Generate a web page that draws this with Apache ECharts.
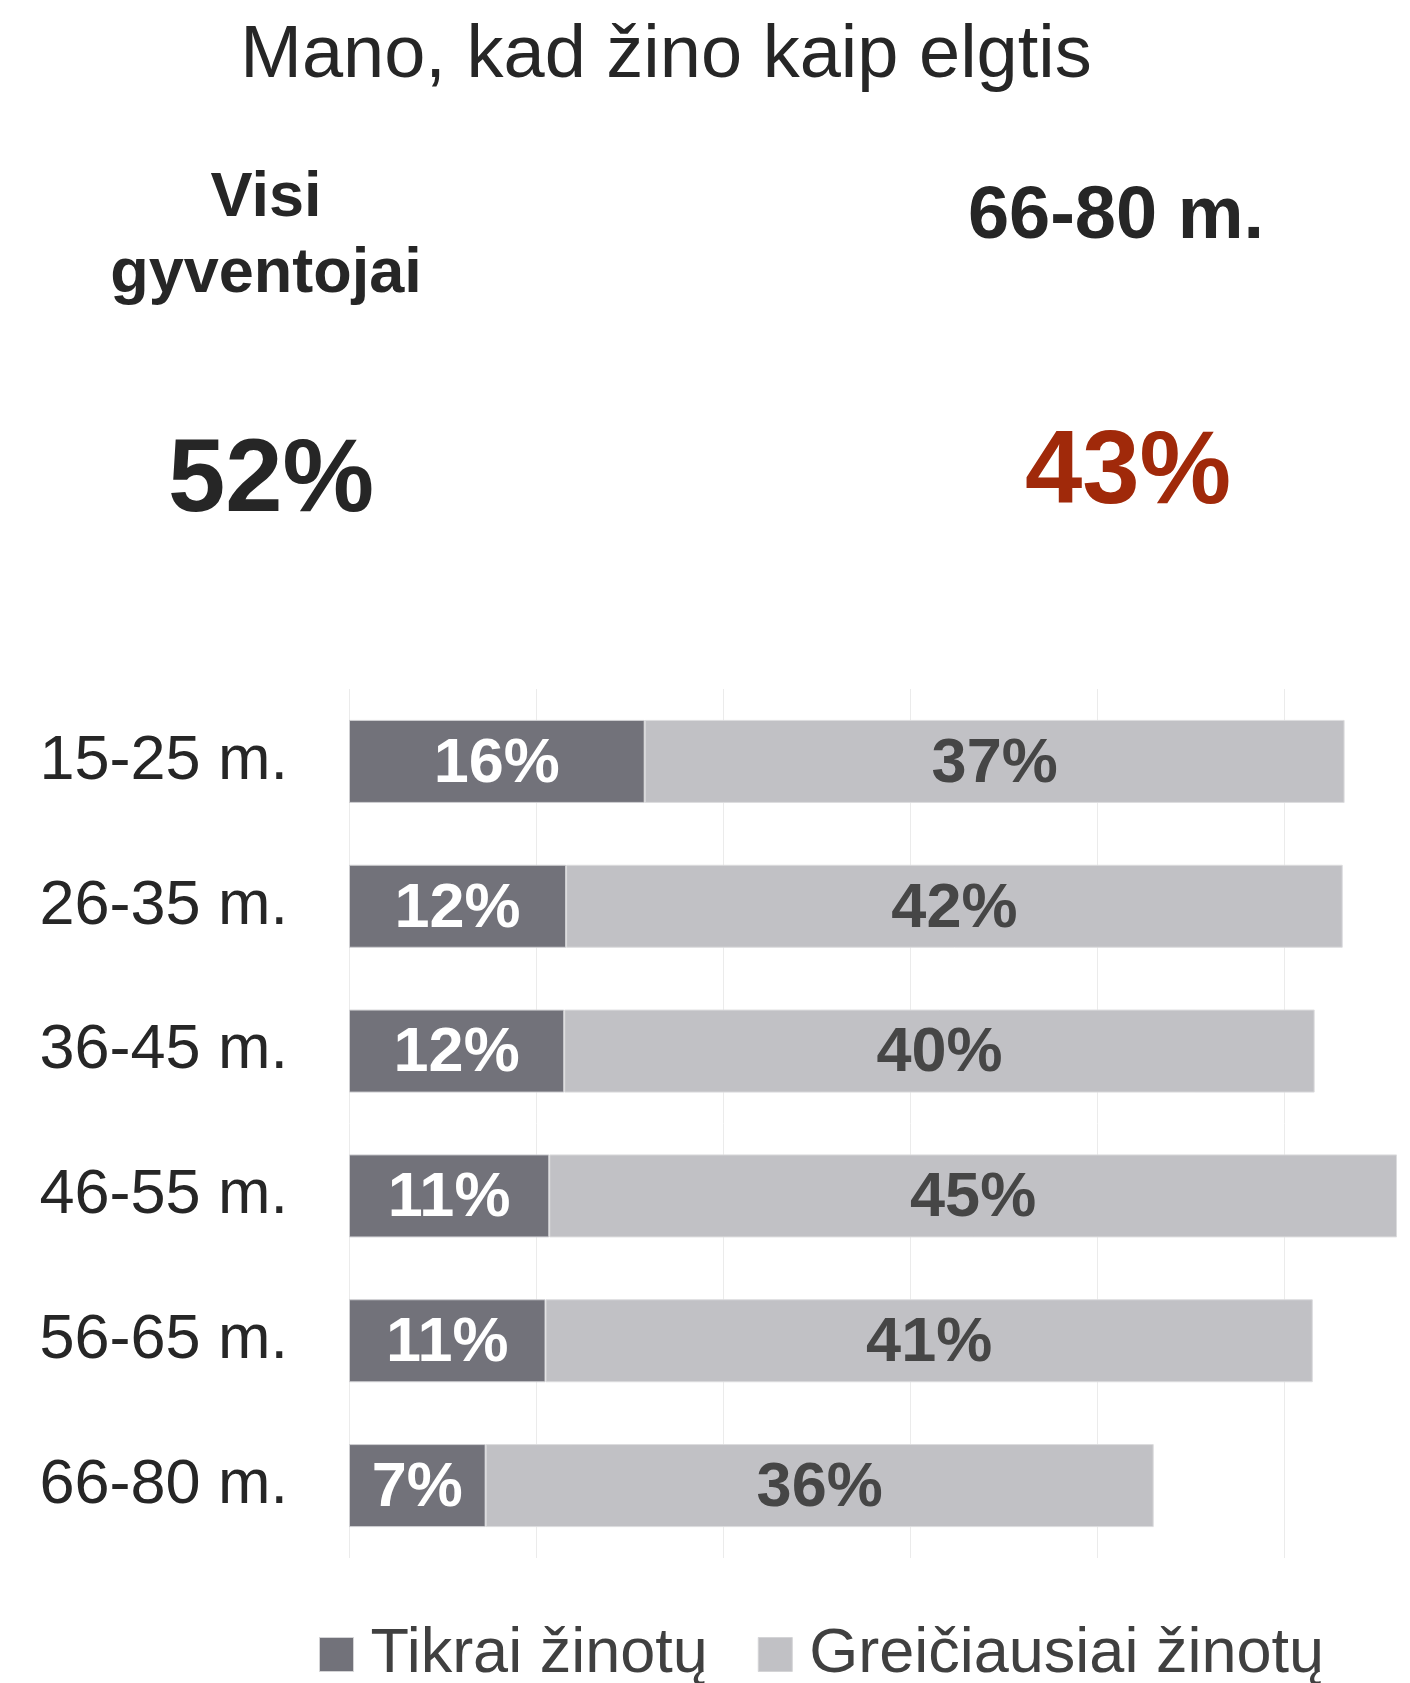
<!DOCTYPE html>
<html>
<head>
<meta charset="utf-8">
<script src="https://cdn.jsdelivr.net/npm/echarts@6/dist/echarts.min.js"></script>
<style>
html,body{margin:0;padding:0;background:#fff;}
#main{width:1410px;height:1683px;}
</style>
</head>
<body>
<div id="main"></div>
<script>
const categories = ['15-25 m.', '26-35 m.', '36-45 m.', '46-55 m.', '56-65 m.', '66-80 m.'];
const seriesNames = ['Tikrai žinotų', 'Greičiausiai žinotų'];
// values (labels show them rounded)
const tikrai = [15.8, 11.6, 11.5, 10.7, 10.5, 7.3];
const greiciausiai = [37.4, 41.5, 40.1, 45.3, 41.0, 35.7];
const titleText = 'Mano, kad žino kaip elgtis';
const leftHeader = ['Visi', 'gyventojai'];
const rightHeader = '66-80 m.';
const leftValue = '52%';
const rightValue = '43%';

const FONT = '"Liberation Sans", Arial, sans-serif';
const chart = echarts.init(document.getElementById('main'), null, {renderer: 'canvas'});

const pct = p => Math.round(p.value) + '%';

const option = {
  backgroundColor: '#ffffff',
  animation: false,
  textStyle: {fontFamily: FONT},
  grid: {left: 349, right: 13, top: 689, bottom: 125, containLabel: false},
  xAxis: {
    type: 'value', min: 0, max: 56, interval: 10,
    axisLabel: {show: false}, axisLine: {show: false}, axisTick: {show: false},
    splitLine: {show: true, showMaxLine: false, lineStyle: {color: '#ebebeb', width: 1}}
  },
  yAxis: {
    type: 'category', data: categories, inverse: true,
    axisLine: {show: false}, axisTick: {show: false},
    axisLabel: {fontSize: 63, color: '#262626', fontFamily: FONT, margin: 61}
  },
  legend: {
    data: seriesNames,
    left: 314, top: 1618,
    itemWidth: 34, itemHeight: 34, itemGap: 50,
    icon: 'rect',
    itemStyle: {borderColor: '#d4d4d6', borderWidth: 1},
    textStyle: {fontSize: 63, color: '#404040', fontFamily: FONT, lineHeight: 63, padding: [0, 0, 0, 12]}
  },
  series: [
    {
      name: seriesNames[0], type: 'bar', stack: 'total', data: tikrai, barWidth: 83,
      itemStyle: {color: '#72727a', borderColor: '#cfcfd2', borderWidth: 1},
      label: {show: true, position: 'inside', offset: [0, 3], formatter: pct, color: '#ffffff', fontSize: 63, fontWeight: 'bold', fontFamily: FONT}
    },
    {
      name: seriesNames[1], type: 'bar', stack: 'total', data: greiciausiai, barWidth: 83,
      itemStyle: {color: '#c1c1c5', borderColor: '#dcdcde', borderWidth: 1},
      label: {show: true, position: 'inside', offset: [0, 3], formatter: pct, color: '#464646', fontSize: 63, fontWeight: 'bold', fontFamily: FONT}
    }
  ],
  graphic: [
    {type: 'text', x: 666, y: 94, style: {text: titleText, font: '74px ' + FONT, fill: '#262626', textAlign: 'center', textVerticalAlign: 'bottom'}},
    {type: 'text', x: 266, y: 230, style: {text: leftHeader[0], font: 'bold 63px ' + FONT, fill: '#262626', textAlign: 'center', textVerticalAlign: 'bottom'}},
    {type: 'text', x: 266, y: 306, style: {text: leftHeader[1], font: 'bold 63px ' + FONT, fill: '#262626', textAlign: 'center', textVerticalAlign: 'bottom'}},
    {type: 'text', x: 1116, y: 255, style: {text: rightHeader, font: 'bold 74px ' + FONT, fill: '#262626', textAlign: 'center', textVerticalAlign: 'bottom'}},
    {type: 'text', x: 271, y: 534, style: {text: leftValue, font: 'bold 103px ' + FONT, fill: '#262626', textAlign: 'center', textVerticalAlign: 'bottom'}},
    {type: 'text', x: 1128, y: 526, style: {text: rightValue, font: 'bold 103px ' + FONT, fill: '#a0290a', textAlign: 'center', textVerticalAlign: 'bottom'}}
  ]
};
chart.setOption(option);
</script>
</body>
</html>
